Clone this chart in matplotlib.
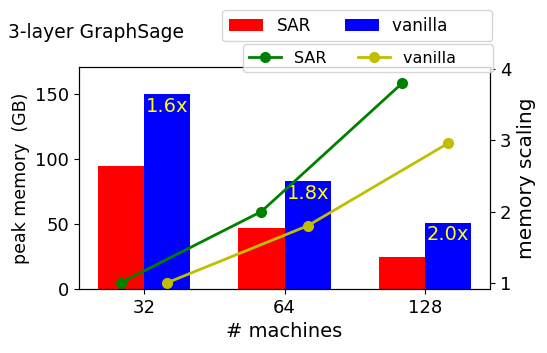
import matplotlib

matplotlib.use("Agg")

import matplotlib.pyplot as plt
import numpy as np

machines = ["32", "64", "128"]
sar_memory = [95, 47, 25]
vanilla_memory = [150, 83, 51]
sar_scaling = [1.0, 2.0, 3.8]
vanilla_scaling = [1.0, 1.8, 2.96]
ratio_labels = ["1.6x", "1.8x", "2.0x"]

width = 0.33
x = np.arange(len(machines))

fig = plt.figure(figsize=(5.47, 3.53), dpi=100)
ax = fig.add_axes([0.1444, 0.181, 0.7516, 0.629])
ax.bar(x - width / 2, sar_memory, width, color="red", label="SAR")
ax.bar(x + width / 2, vanilla_memory, width, color="blue", label="vanilla       ")
for xi, h, txt in zip(x, vanilla_memory, ratio_labels):
    ax.text(xi + width / 2, h - 2, txt, color="yellow", ha="center", va="top", fontsize=14)
ax.set_xticks(x)
ax.set_xticklabels(machines, fontsize=13)
ax.set_ylim(0, 171)
ax.set_yticks([0, 50, 100, 150])
ax.tick_params(labelsize=13)
ax.set_xlabel("# machines", fontsize=14)
ax.set_ylabel("peak memory  (GB)", fontsize=12.5)

ax2 = ax.twinx()
ax2.plot(x - width / 2, sar_scaling, "-o", color="green", lw=2, ms=7, label="SAR")
ax2.plot(x + width / 2, vanilla_scaling, "-o", color="y", lw=2, ms=7, label="vanilla      ")
ax2.set_ylim(0.91, 4.03)
ax2.set_yticks([1, 2, 3, 4])
ax2.tick_params(labelsize=13)
ax2.set_ylabel("memory scaling", fontsize=14.5)

fig.text(0.015, 0.907, "3-layer GraphSage", fontsize=13.5, va="center")

h1, l1 = ax.get_legend_handles_labels()
fig.legend(h1, l1, ncol=2, loc="upper right", bbox_to_anchor=(0.8995, 0.972),
           borderaxespad=0, fontsize=12.2)
h2, l2 = ax2.get_legend_handles_labels()
fig.legend(h2, l2, ncol=2, loc="upper right", bbox_to_anchor=(0.9013, 0.874),
           borderaxespad=0, fontsize=11.5)

fig.savefig("out.png", dpi=100)
